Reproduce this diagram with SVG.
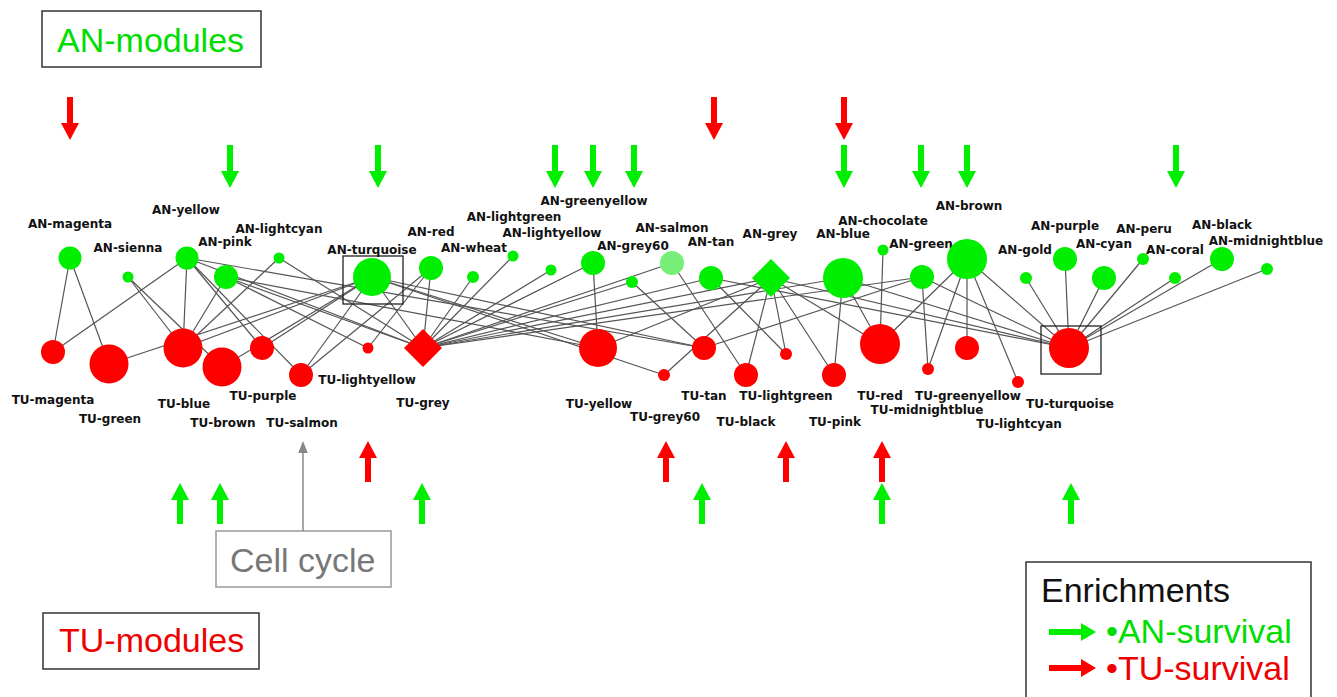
<svg xmlns="http://www.w3.org/2000/svg" xmlns:xlink="http://www.w3.org/1999/xlink" width="1337" height="697" viewBox="0 0 1337 697">
<style>
.an{fill:#00ee00}
.anl{fill:#77ee77}
.tu{fill:#ff0000}
.lbl{font-family:"DejaVu Sans",Verdana,sans-serif;font-weight:bold;font-size:12px;fill:#111;text-anchor:middle}
.edge line{stroke:#555;stroke-width:1.2}
.sel{fill:none;stroke:#222;stroke-width:1.3}
.big{font-family:"Liberation Sans",Arial,sans-serif;font-size:34px}
.box{fill:#fff;stroke:#333;stroke-width:1.5}
.ga{fill:#00ee00}
.ra{fill:#ff0000}
</style>
<defs>
<path id="down" d="M-3,0 H3 V26 H9 L0,43 L-9,26 H-3 Z"/>
<path id="up" d="M0,0 L9,17 H3 V41 H-3 V17 H-9 Z"/>
<path id="right" d="M0,-3 H32 V-9 L47,0 L32,9 V3 H0 Z"/>
<marker id="gh" viewBox="0 0 10 10" refX="5" refY="5" markerWidth="8" markerHeight="8" orient="auto"><path d="M0,1 L10,5 L0,9 Z" fill="#888"/></marker>
</defs>
<rect width="1337" height="697" fill="#fff"/>

<g id="connectors" class="edge">
<line x1="70" y1="258" x2="53" y2="352"/>
<line x1="70" y1="258" x2="109" y2="364"/>
<line x1="187" y1="258" x2="53" y2="352"/>
<line x1="128" y1="277" x2="183" y2="348"/>
<line x1="128" y1="277" x2="222" y2="367"/>
<line x1="187" y1="258" x2="183" y2="348"/>
<line x1="187" y1="258" x2="262" y2="348"/>
<line x1="187" y1="258" x2="301" y2="375"/>
<line x1="187" y1="258" x2="423" y2="348"/>
<line x1="187" y1="258" x2="704" y2="348"/>
<line x1="226" y1="277" x2="183" y2="348"/>
<line x1="226" y1="277" x2="368" y2="348"/>
<line x1="226" y1="277" x2="423" y2="348"/>
<line x1="226" y1="277" x2="598" y2="348"/>
<line x1="279" y1="258" x2="183" y2="348"/>
<line x1="279" y1="258" x2="423" y2="348"/>
<line x1="372" y1="277" x2="109" y2="364"/>
<line x1="372" y1="277" x2="183" y2="348"/>
<line x1="372" y1="277" x2="222" y2="367"/>
<line x1="372" y1="277" x2="262" y2="348"/>
<line x1="372" y1="277" x2="301" y2="375"/>
<line x1="372" y1="277" x2="423" y2="348"/>
<line x1="372" y1="277" x2="598" y2="348"/>
<line x1="372" y1="277" x2="704" y2="348"/>
<line x1="372" y1="277" x2="664" y2="375"/>
<line x1="431" y1="268" x2="301" y2="375"/>
<line x1="431" y1="268" x2="368" y2="348"/>
<line x1="431" y1="268" x2="423" y2="348"/>
<line x1="473" y1="277" x2="423" y2="348"/>
<line x1="513" y1="256" x2="423" y2="348"/>
<line x1="551" y1="270" x2="423" y2="348"/>
<line x1="593" y1="263" x2="423" y2="348"/>
<line x1="593" y1="263" x2="598" y2="348"/>
<line x1="632" y1="282" x2="423" y2="348"/>
<line x1="632" y1="282" x2="704" y2="348"/>
<line x1="672" y1="263" x2="423" y2="348"/>
<line x1="672" y1="263" x2="746" y2="375"/>
<line x1="711" y1="278" x2="423" y2="348"/>
<line x1="711" y1="278" x2="786" y2="354"/>
<line x1="711" y1="278" x2="1069" y2="348"/>
<line x1="771" y1="278" x2="423" y2="348"/>
<line x1="771" y1="278" x2="598" y2="348"/>
<line x1="771" y1="278" x2="664" y2="375"/>
<line x1="771" y1="278" x2="746" y2="375"/>
<line x1="771" y1="278" x2="786" y2="354"/>
<line x1="771" y1="278" x2="834" y2="375"/>
<line x1="771" y1="278" x2="880" y2="344"/>
<line x1="771" y1="278" x2="1069" y2="348"/>
<line x1="843" y1="278" x2="423" y2="348"/>
<line x1="843" y1="278" x2="834" y2="375"/>
<line x1="843" y1="278" x2="880" y2="344"/>
<line x1="843" y1="278" x2="1069" y2="348"/>
<line x1="883" y1="250" x2="880" y2="344"/>
<line x1="922" y1="277" x2="704" y2="348"/>
<line x1="922" y1="277" x2="423" y2="348"/>
<line x1="922" y1="277" x2="928" y2="369"/>
<line x1="922" y1="277" x2="1069" y2="348"/>
<line x1="967" y1="259" x2="880" y2="344"/>
<line x1="967" y1="259" x2="928" y2="369"/>
<line x1="967" y1="259" x2="967" y2="348"/>
<line x1="967" y1="259" x2="1018" y2="382"/>
<line x1="967" y1="259" x2="1069" y2="348"/>
<line x1="1026" y1="278" x2="1069" y2="348"/>
<line x1="1065" y1="259" x2="1069" y2="348"/>
<line x1="1104" y1="278" x2="1069" y2="348"/>
<line x1="1143" y1="259" x2="1069" y2="348"/>
<line x1="1175" y1="278" x2="1069" y2="348"/>
<line x1="1222" y1="259" x2="1069" y2="348"/>
<line x1="1267" y1="269" x2="1069" y2="348"/>
</g>

<g id="AN-magenta"><circle class="an" cx="70" cy="258" r="11.5"/><text class="lbl" x="70" y="228">AN-magenta</text></g>
<g id="AN-sienna"><circle class="an" cx="128" cy="277" r="5.5"/><text class="lbl" x="128" y="252">AN-sienna</text></g>
<g id="AN-yellow"><circle class="an" cx="187" cy="258" r="11.5"/><text class="lbl" x="186" y="214">AN-yellow</text></g>
<g id="AN-pink"><circle class="an" cx="226" cy="277" r="12"/><text class="lbl" x="225" y="246">AN-pink</text></g>
<g id="AN-lightcyan"><circle class="an" cx="279" cy="258" r="5.5"/><text class="lbl" x="279" y="233">AN-lightcyan</text></g>
<g id="AN-turquoise"><circle class="an" cx="372" cy="277" r="19"/><rect class="sel" x="343" y="256" width="60" height="48"/><text class="lbl" x="372" y="254">AN-turquoise</text></g>
<g id="AN-red"><circle class="an" cx="431" cy="268" r="12"/><text class="lbl" x="431" y="236">AN-red</text></g>
<g id="AN-wheat"><circle class="an" cx="473" cy="277" r="6"/><text class="lbl" x="474" y="252">AN-wheat</text></g>
<g id="AN-lightgreen"><circle class="an" cx="513" cy="256" r="5.5"/><text class="lbl" x="514" y="221">AN-lightgreen</text></g>
<g id="AN-lightyellow"><circle class="an" cx="551" cy="270" r="5.5"/><text class="lbl" x="552" y="237">AN-lightyellow</text></g>
<g id="AN-greenyellow"><circle class="an" cx="593" cy="263" r="12"/><text class="lbl" x="594" y="205">AN-greenyellow</text></g>
<g id="AN-grey60"><circle class="an" cx="632" cy="282" r="6"/><text class="lbl" x="633" y="250">AN-grey60</text></g>
<g id="AN-salmon"><circle class="anl" cx="672" cy="263" r="12"/><text class="lbl" x="672" y="232">AN-salmon</text></g>
<g id="AN-tan"><circle class="an" cx="711" cy="278" r="12"/><text class="lbl" x="711" y="246">AN-tan</text></g>
<g id="AN-grey"><path class="an" d="M771,259 L790,278 L771,297 L752,278 Z"/><text class="lbl" x="770" y="238">AN-grey</text></g>
<g id="AN-blue"><circle class="an" cx="843" cy="278" r="20"/><text class="lbl" x="843" y="238">AN-blue</text></g>
<g id="AN-chocolate"><circle class="an" cx="883" cy="250" r="5.5"/><text class="lbl" x="883" y="225">AN-chocolate</text></g>
<g id="AN-green"><circle class="an" cx="922" cy="277" r="12"/><text class="lbl" x="921" y="248">AN-green</text></g>
<g id="AN-brown"><circle class="an" cx="967" cy="259" r="20"/><text class="lbl" x="969" y="210">AN-brown</text></g>
<g id="AN-gold"><circle class="an" cx="1026" cy="278" r="6"/><text class="lbl" x="1025" y="254">AN-gold</text></g>
<g id="AN-purple"><circle class="an" cx="1065" cy="259" r="12"/><text class="lbl" x="1065" y="230">AN-purple</text></g>
<g id="AN-cyan"><circle class="an" cx="1104" cy="278" r="12"/><text class="lbl" x="1104" y="248">AN-cyan</text></g>
<g id="AN-peru"><circle class="an" cx="1143" cy="259" r="6"/><text class="lbl" x="1144" y="233">AN-peru</text></g>
<g id="AN-coral"><circle class="an" cx="1175" cy="278" r="6"/><text class="lbl" x="1175" y="254">AN-coral</text></g>
<g id="AN-black"><circle class="an" cx="1222" cy="259" r="12"/><text class="lbl" x="1222" y="229">AN-black</text></g>
<g id="AN-midnightblue"><circle class="an" cx="1267" cy="269" r="6"/><text class="lbl" x="1266" y="245">AN-midnightblue</text></g>

<g id="TU-magenta"><circle class="tu" cx="53" cy="352" r="12"/><text class="lbl" x="53" y="404">TU-magenta</text></g>
<g id="TU-green"><circle class="tu" cx="109" cy="364" r="19.5"/><text class="lbl" x="110" y="423">TU-green</text></g>
<g id="TU-blue"><circle class="tu" cx="183" cy="348" r="19.5"/><text class="lbl" x="184" y="408">TU-blue</text></g>
<g id="TU-brown"><circle class="tu" cx="222" cy="367" r="19.5"/><text class="lbl" x="223" y="427">TU-brown</text></g>
<g id="TU-purple"><circle class="tu" cx="262" cy="348" r="12"/><text class="lbl" x="263" y="400">TU-purple</text></g>
<g id="TU-lightyellow"><circle class="tu" cx="301" cy="375" r="12"/><text class="lbl" x="367" y="384">TU-lightyellow</text></g>
<g id="TU-salmon"><circle class="tu" cx="368" cy="348" r="5.5"/><text class="lbl" x="302" y="427">TU-salmon</text></g>
<g id="TU-grey"><path class="tu" d="M423,329 L442,348 L423,367 L404,348 Z"/><text class="lbl" x="423" y="407">TU-grey</text></g>
<g id="TU-yellow"><circle class="tu" cx="598" cy="348" r="19"/><text class="lbl" x="599" y="408">TU-yellow</text></g>
<g id="TU-grey60"><circle class="tu" cx="664" cy="375" r="6"/><text class="lbl" x="665" y="421">TU-grey60</text></g>
<g id="TU-tan"><circle class="tu" cx="704" cy="348" r="12"/><text class="lbl" x="704" y="400">TU-tan</text></g>
<g id="TU-black"><circle class="tu" cx="746" cy="375" r="12"/><text class="lbl" x="746" y="426">TU-black</text></g>
<g id="TU-lightgreen"><circle class="tu" cx="786" cy="354" r="6"/><text class="lbl" x="786" y="400">TU-lightgreen</text></g>
<g id="TU-pink"><circle class="tu" cx="834" cy="375" r="12"/><text class="lbl" x="835" y="426">TU-pink</text></g>
<g id="TU-red"><circle class="tu" cx="880" cy="344" r="20"/><text class="lbl" x="880" y="400">TU-red</text></g>
<g id="TU-midnightblue"><circle class="tu" cx="928" cy="369" r="6"/><text class="lbl" x="927" y="414">TU-midnightblue</text></g>
<g id="TU-greenyellow"><circle class="tu" cx="967" cy="348" r="12"/><text class="lbl" x="968" y="400">TU-greenyellow</text></g>
<g id="TU-lightcyan"><circle class="tu" cx="1018" cy="382" r="6"/><text class="lbl" x="1019" y="428">TU-lightcyan</text></g>
<g id="TU-turquoise"><circle class="tu" cx="1069" cy="348" r="20"/><rect class="sel" x="1041" y="326" width="60" height="48"/><text class="lbl" x="1070" y="408">TU-turquoise</text></g>

<g id="AN-modules"><rect class="box" x="42" y="11" width="219" height="56"/><text class="big" x="57" y="52" fill="#00dd00">AN-modules</text></g>
<g id="TU-modules"><rect class="box" x="43" y="613" width="216" height="56"/><text class="big" x="59" y="652" fill="#ee0000">TU-modules</text></g>
<g id="cell-cycle"><rect x="216" y="531" width="175" height="56" fill="#fff" stroke="#999" stroke-width="1.5"/><text class="big" x="230" y="572" fill="#777">Cell cycle</text><line x1="303" y1="531" x2="303" y2="447" stroke="#888" stroke-width="1.5" marker-end="url(#gh)"/></g>

<g id="top-arrows">
<use xlink:href="#down" class="ra" x="70" y="97"/>
<use xlink:href="#down" class="ra" x="714" y="97"/>
<use xlink:href="#down" class="ra" x="844" y="97"/>
<use xlink:href="#down" class="ga" x="230" y="145"/>
<use xlink:href="#down" class="ga" x="378" y="145"/>
<use xlink:href="#down" class="ga" x="555" y="145"/>
<use xlink:href="#down" class="ga" x="593" y="145"/>
<use xlink:href="#down" class="ga" x="634" y="145"/>
<use xlink:href="#down" class="ga" x="844" y="145"/>
<use xlink:href="#down" class="ga" x="921" y="145"/>
<use xlink:href="#down" class="ga" x="967" y="145"/>
<use xlink:href="#down" class="ga" x="1176" y="145"/>
</g>
<g id="bottom-arrows">
<use xlink:href="#up" class="ga" x="180" y="483"/>
<use xlink:href="#up" class="ga" x="220" y="483"/>
<use xlink:href="#up" class="ga" x="422" y="483"/>
<use xlink:href="#up" class="ga" x="702" y="483"/>
<use xlink:href="#up" class="ga" x="882" y="483"/>
<use xlink:href="#up" class="ga" x="1071" y="483"/>
<use xlink:href="#up" class="ra" x="368" y="441"/>
<use xlink:href="#up" class="ra" x="666" y="441"/>
<use xlink:href="#up" class="ra" x="786" y="441"/>
<use xlink:href="#up" class="ra" x="882" y="441"/>
</g>

<g id="legend">
<rect class="box" x="1026" y="562" width="285" height="145" stroke="#111"/>
<text class="big" x="1041" y="602" fill="#111">Enrichments</text>
<use xlink:href="#right" class="ga" x="1049" y="632"/>
<text class="big" x="1106" y="643" fill="#00dd00">•AN-survival</text>
<use xlink:href="#right" class="ra" x="1049" y="668"/>
<text class="big" x="1106" y="680" fill="#ee0000">•TU-survival</text>
</g>
</svg>
